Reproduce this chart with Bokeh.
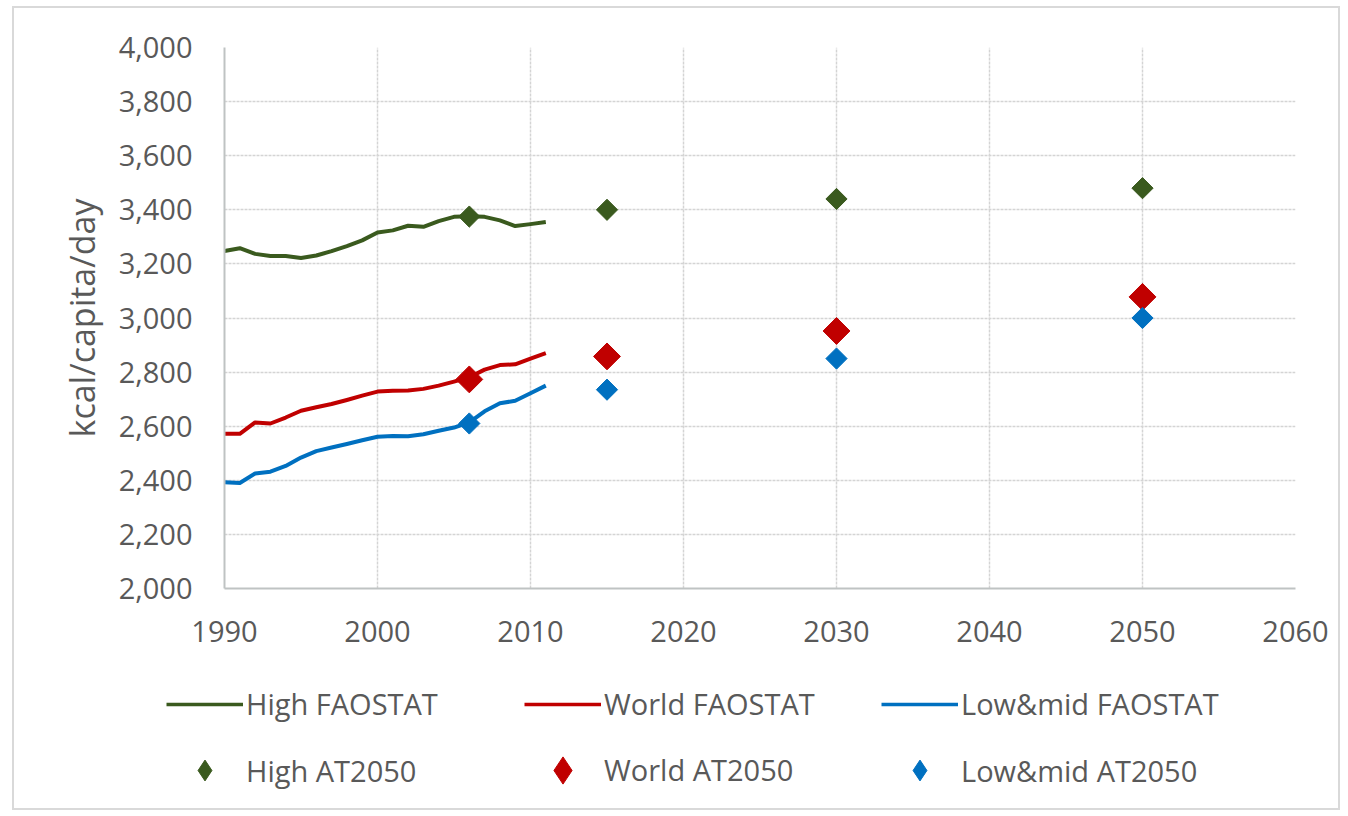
from bokeh.plotting import figure
from bokeh.layouts import column
from bokeh.models import (ColumnDataSource, Range1d, FixedTicker, NumeralTickFormatter,
                          Legend, LegendItem)
from bokeh.embed import file_html
from bokeh.resources import INLINE
import numpy as np

# ---- data ----
years = list(range(1990, 2012))
high_faostat = [3248, 3258, 3237, 3229, 3229, 3222, 3231, 3247, 3266, 3287, 3316,
                3324, 3341, 3337, 3358, 3374, 3376, 3374, 3361, 3340, 3347, 3355]
world_faostat = [2572, 2572, 2614, 2610, 2632, 2657, 2670, 2682, 2697, 2713, 2728,
                 2731, 2732, 2738, 2750, 2765, 2781, 2809, 2826, 2829, 2850, 2870]
lowmid_faostat = [2393, 2390, 2425, 2432, 2453, 2484, 2508, 2521, 2534, 2548, 2561,
                  2564, 2563, 2570, 2583, 2595, 2614, 2655, 2685, 2694, 2722, 2750]
at_years = [2006, 2015, 2030, 2050]
high_at = [3375, 3400, 3440, 3480]
world_at = [2773, 2858, 2952, 3078]
lowmid_at = [2610, 2735, 2850, 3000]

x_ticks = [1990, 2000, 2010, 2020, 2030, 2040, 2050, 2060]
y_ticks = list(range(2000, 4001, 200))

GREEN = "#3a5a1e"
RED = "#c00000"
BLUE = "#0070c0"
TEXT = "#595959"
FONT = "Open Sans"

W = 1324
p = figure(width=W, height=650, output_backend="svg", toolbar_location=None,
           x_range=Range1d(1990, 2060), y_range=Range1d(2000, 4000),
           min_border_left=210, min_border_right=43, min_border_top=39,
           min_border_bottom=70)
p.outline_line_color = None
p.background_fill_color = "white"
p.border_fill_color = "white"

for ax in (p.xaxis, p.yaxis):
    ax.major_tick_line_color = None
    ax.minor_tick_line_color = None
    ax.major_tick_out = 0
    ax.major_label_text_font = FONT
    ax.major_label_text_font_size = "29px"
    ax.major_label_text_color = TEXT
    ax.axis_line_color = "#bfc3c3"
    ax.axis_line_width = 2
p.xaxis.ticker = FixedTicker(ticks=x_ticks)
p.yaxis.ticker = FixedTicker(ticks=y_ticks)
p.yaxis.formatter = NumeralTickFormatter(format="0,0")
p.xaxis.major_label_standoff = 32
p.yaxis.major_label_standoff = 32
p.yaxis.axis_label = "kcal/capita/day"
p.yaxis.axis_label_text_font = FONT
p.yaxis.axis_label_text_font_size = "34px"
p.yaxis.axis_label_text_font_style = "normal"
p.yaxis.axis_label_text_color = TEXT
p.yaxis.axis_label_standoff = 11

for g in (p.xgrid, p.ygrid):
    g.grid_line_color = "#d4d4d4"
    g.grid_line_width = 1.5
    g.grid_line_dash = "3 1"

src_lines = ColumnDataSource(dict(year=years, high=high_faostat, world=world_faostat,
                                  low=lowmid_faostat))
src_at = ColumnDataSource(dict(year=at_years, high=high_at, world=world_at, low=lowmid_at))

LINE_W = 4
SIDE_SMALL = 15
SIDE_BIG = 19

p.line("year", "high", source=src_lines, line_color=GREEN, line_width=LINE_W, line_join="round")
p.line("year", "world", source=src_lines, line_color=RED, line_width=LINE_W, line_join="round")
p.line("year", "low", source=src_lines, line_color=BLUE, line_width=LINE_W, line_join="round")

p.scatter("year", "high", source=src_at, marker="square", angle=np.pi / 4,
          size=SIDE_SMALL, fill_color=GREEN, line_color=GREEN)
p.scatter("year", "world", source=src_at, marker="square", angle=np.pi / 4,
          size=SIDE_BIG, fill_color=RED, line_color=RED)
p.scatter("year", "low", source=src_at, marker="square", angle=np.pi / 4,
          size=SIDE_SMALL, fill_color=BLUE, line_color=BLUE)

# ---- legend strip: a second figure whose frame holds the legend ----
# (its ranges lie outside the data, so its renderers only feed the legend swatches)
LH = 150
lf = figure(width=W, height=LH, output_backend="svg", toolbar_location=None,
            x_axis_location=None, y_axis_location=None, min_border=0,
            x_range=Range1d(0, 1), y_range=Range1d(0, 1))
lf.outline_line_color = None
lf.xgrid.visible = False
lf.ygrid.visible = False
lf.border_fill_color = None
lf.background_fill_color = None
lf.margin = (0, 0, 0, -58)

items = [
    # label, kind, colour, y column, marker size, column x (from frame left), row centre (from top)
    ("High FAOSTAT", "line", GREEN, "high", None, 0, 46),
    ("World FAOSTAT", "line", RED, "world", None, 358, 46),
    ("Low&mid FAOSTAT", "line", BLUE, "low", None, 715, 46),
    ("High AT2050", "marker", GREEN, "high", 21, 0, 112),
    ("World AT2050", "marker", RED, "world", 27, 358, 112),
    ("Low&mid AT2050", "marker", BLUE, "low", 21, 715, 112),
]
for label, kind, col, field, msize, x0, cy in items:
    if kind == "line":
        r = lf.line("year", field, source=src_lines, line_color=col, line_width=3.5)
        h = 38
    else:
        r = lf.scatter("year", field, source=src_at, marker="diamond",
                       size=msize, fill_color=col, line_color=col)
        h = msize / 0.4
    bottom = (LH - cy) - h / 2
    leg = Legend(items=[LegendItem(label=label, renderers=[r])],
                 location=(x0, bottom), orientation="vertical",
                 glyph_width=77, glyph_height=int(round(h)), label_height=int(round(h)),
                 label_standoff=3, spacing=0, padding=0, margin=0,
                 label_text_font=FONT, label_text_font_size="29px",
                 label_text_color=TEXT,
                 background_fill_alpha=0, border_line_color=None)
    lf.add_layout(leg, "center")

layout = column(p, lf, spacing=0)
layout.styles = {"border": "2px solid #d9d9d9", "margin-left": "12px", "margin-top": "6px",
                 "background-color": "white"}

open("out.html", "w").write(file_html(layout, INLINE))
